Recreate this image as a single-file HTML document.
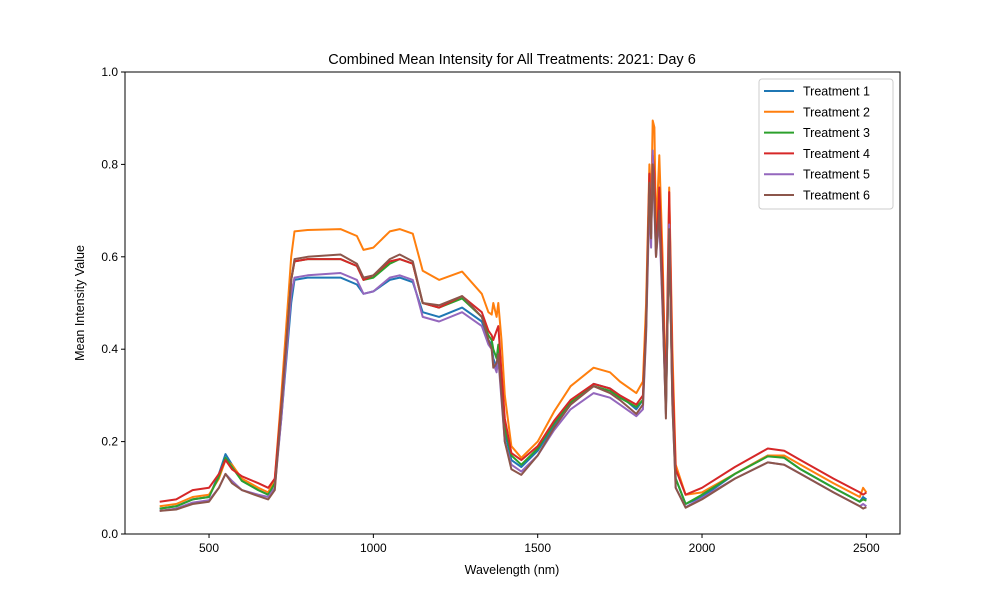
<!DOCTYPE html>
<html><head><meta charset="utf-8"><style>body{margin:0;background:#fff}svg{font-family:"Liberation Sans","DejaVu Sans",sans-serif}</style></head>
<body>
<svg id="chart" width="1000" height="600" xmlns="http://www.w3.org/2000/svg">
<rect width="1000" height="600" fill="#fff"/>
<text x="512" y="64" text-anchor="middle" font-size="14.5">Combined Mean Intensity for All Treatments: 2021: Day 6</text>
<g id="plot"></g>
<rect x="125" y="72" width="775" height="462" fill="none" stroke="#000" stroke-width="1"/>
<text x="512" y="574" text-anchor="middle" font-size="12.5">Wavelength (nm)</text>
<text transform="translate(84,303) rotate(-90)" text-anchor="middle" font-size="12.5">Mean Intensity Value</text>
<g id="legend"></g>
</svg>
<script>
const wavelengths=[350,400,450,500,530,550,570,600,650,680,700,720,750,760,800,900,950,970,1000,1050,1080,1120,1150,1200,1270,1330,1350,1360,1365,1375,1380,1390,1400,1420,1450,1500,1550,1600,1670,1720,1750,1800,1820,1830,1840,1845,1850,1855,1860,1870,1880,1890,1900,1910,1920,1950,2000,2100,2200,2250,2300,2400,2480,2490,2500];
const t1=[0.055,0.06,0.075,0.08,0.13,0.173,0.15,0.115,0.095,0.085,0.11,0.25,0.5,0.55,0.555,0.555,0.54,0.52,0.525,0.55,0.555,0.545,0.48,0.47,0.49,0.46,0.42,0.41,0.38,0.36,0.4,0.3,0.22,0.16,0.145,0.18,0.235,0.28,0.325,0.315,0.3,0.27,0.29,0.45,0.78,0.65,0.8,0.75,0.62,0.7,0.5,0.27,0.65,0.3,0.12,0.065,0.08,0.13,0.17,0.165,0.14,0.1,0.07,0.08,0.075];
const t2=[0.06,0.065,0.08,0.085,0.12,0.16,0.15,0.12,0.1,0.09,0.12,0.3,0.6,0.655,0.658,0.66,0.645,0.615,0.62,0.655,0.66,0.65,0.57,0.55,0.568,0.52,0.48,0.475,0.5,0.47,0.5,0.42,0.3,0.19,0.165,0.2,0.265,0.32,0.36,0.35,0.33,0.305,0.33,0.5,0.8,0.7,0.895,0.88,0.65,0.82,0.6,0.3,0.75,0.4,0.15,0.085,0.09,0.13,0.17,0.17,0.15,0.11,0.08,0.1,0.09];
const t3=[0.055,0.06,0.075,0.08,0.125,0.165,0.145,0.115,0.095,0.085,0.11,0.27,0.55,0.59,0.595,0.595,0.58,0.55,0.555,0.585,0.595,0.585,0.5,0.49,0.51,0.47,0.43,0.42,0.4,0.38,0.41,0.32,0.23,0.17,0.15,0.185,0.24,0.285,0.32,0.31,0.295,0.275,0.29,0.45,0.75,0.65,0.78,0.72,0.62,0.7,0.5,0.27,0.65,0.3,0.12,0.065,0.085,0.13,0.168,0.165,0.14,0.1,0.07,0.075,0.072];
const t4=[0.07,0.075,0.095,0.1,0.13,0.16,0.14,0.125,0.11,0.1,0.12,0.28,0.55,0.59,0.595,0.595,0.58,0.55,0.56,0.59,0.595,0.585,0.5,0.49,0.515,0.48,0.44,0.43,0.42,0.44,0.45,0.35,0.25,0.175,0.16,0.19,0.245,0.29,0.325,0.315,0.3,0.28,0.3,0.46,0.78,0.66,0.82,0.78,0.6,0.75,0.55,0.28,0.74,0.35,0.14,0.085,0.1,0.145,0.185,0.18,0.16,0.12,0.09,0.085,0.09];
const t5=[0.05,0.055,0.068,0.073,0.1,0.13,0.115,0.095,0.085,0.08,0.1,0.25,0.52,0.555,0.56,0.565,0.55,0.52,0.525,0.555,0.56,0.55,0.47,0.46,0.48,0.45,0.41,0.4,0.37,0.35,0.38,0.29,0.2,0.15,0.135,0.17,0.225,0.27,0.305,0.295,0.28,0.255,0.27,0.43,0.72,0.62,0.83,0.7,0.6,0.68,0.48,0.26,0.67,0.28,0.1,0.058,0.078,0.12,0.155,0.15,0.13,0.09,0.06,0.065,0.06];
const t6=[0.05,0.053,0.065,0.07,0.1,0.13,0.11,0.095,0.082,0.075,0.095,0.27,0.55,0.595,0.6,0.605,0.585,0.555,0.56,0.595,0.605,0.59,0.5,0.495,0.515,0.47,0.42,0.4,0.36,0.37,0.39,0.3,0.2,0.14,0.128,0.17,0.23,0.28,0.32,0.305,0.29,0.26,0.28,0.44,0.76,0.64,0.8,0.72,0.6,0.7,0.5,0.25,0.66,0.28,0.1,0.057,0.075,0.12,0.155,0.15,0.13,0.09,0.06,0.055,0.058];
const seriesNames=["Treatment 1","Treatment 2","Treatment 3","Treatment 4","Treatment 5","Treatment 6"];
const xTicks=[500,1000,1500,2000,2500];
const yTicks=[0,0.2,0.4,0.6,0.8,1.0];
const yTickLabels=["0.0","0.2","0.4","0.6","0.8","1.0"];
const series=[t1,t2,t3,t4,t5,t6];
const colors=["#1f77b4","#ff7f0e","#2ca02c","#d62728","#9467bd","#8c564b"];
const NS="http://www.w3.org/2000/svg";
const X=v=>44.7+v*0.32866, Y=v=>534-v*462;
const plot=document.getElementById('plot');
function mk(t,a,p){const e=document.createElementNS(NS,t);for(const k in a)e.setAttribute(k,a[k]);(p||plot).appendChild(e);return e;}
xTicks.forEach(v=>{const g=mk('g',{});


mk('line',{x1:X(v),x2:X(v),y1:534,y2:538,stroke:'#000'},g);
const t=mk('text',{x:X(v),y:552,'text-anchor':'middle','font-size':12},g);t.textContent=v;});
yTicks.forEach((v,i)=>{const g=mk('g',{});


mk('line',{x1:121,x2:125,y1:Y(v),y2:Y(v),stroke:'#000'},g);
const t=mk('text',{x:118,y:Y(v)+4,'text-anchor':'end','font-size':12},g);t.textContent=yTickLabels[i];});
series.forEach((s,i)=>{const d=s.map((v,j)=>(j?'L':'M')+X(wavelengths[j]).toFixed(1)+','+Y(v).toFixed(1)).join('');
const p=mk('path',{d:d,fill:'none',stroke:colors[i],'stroke-width':2,'stroke-linejoin':'round'});

});
const lg=document.getElementById('legend');
const box=mk('rect',{x:759,y:79,width:134,height:130,fill:'#fff','fill-opacity':0.8,stroke:'#ccc',rx:3},lg);


seriesNames.forEach((n,i)=>{const y=91+i*20.8;const g=mk('g',{},lg);


mk('line',{x1:764,x2:794,y1:y,y2:y,stroke:colors[i],'stroke-width':2},g);
const t=mk('text',{x:803,y:y+4.5,'font-size':12.5},g);t.textContent=n;});
</script>
</body></html>
